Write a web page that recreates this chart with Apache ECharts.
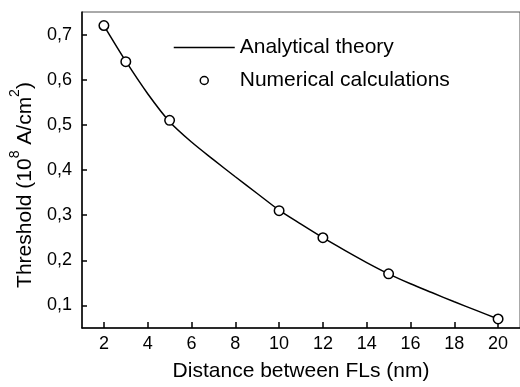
<!DOCTYPE html>
<html>
<head>
<meta charset="utf-8">
<script src="https://cdn.jsdelivr.net/npm/echarts@6/dist/echarts.min.js"></script>
<style>html,body{margin:0;padding:0;background:#fff;}#c{width:520px;height:387px;}</style>
</head>
<body>
<div id="c"></div>
<script>
const pointX = [2, 3, 5, 10, 12, 15, 20];
const pointY = [0.72, 0.64, 0.51, 0.31, 0.25, 0.17, 0.07];
const curveX = [2, 3, 4, 5, 6, 7, 8, 9, 10, 11, 12, 13, 14, 15, 16, 17, 18, 19, 20];
const curveY = [0.72, 0.641, 0.569, 0.507, 0.462, 0.423, 0.385, 0.348, 0.311, 0.28, 0.25, 0.222, 0.195, 0.17, 0.148, 0.128, 0.108, 0.089, 0.07];
const xTicks = [2, 4, 6, 8, 10, 12, 14, 16, 18, 20];
const yTicks = [0.1, 0.2, 0.3, 0.4, 0.5, 0.6, 0.7];
const seriesNames = ['Analytical theory', 'Numerical calculations'];

const FONT = 'Liberation Sans';
const chart = echarts.init(document.getElementById('c'), null, {renderer: 'canvas'});
chart.setOption({
  animation: false,
  backgroundColor: '#fff',
  textStyle: {fontFamily: FONT, color: '#000'},
  grid: {left: 82, top: 12, width: 439, height: 323, show: true, borderColor: '#555', borderWidth: 1},
  legend: {
    orient: 'vertical', left: 168, top: 32,
    itemWidth: 61, itemHeight: 8, itemGap: 12,
    textStyle: {fontFamily: FONT, fontSize: 21, color: '#000', lineHeight: 21},
    data: [
      {name: seriesNames[0], itemStyle: {color: 'rgba(0,0,0,0)', borderWidth: 0, opacity: 0}, lineStyle: {color: '#000', width: 1.5}},
      {name: seriesNames[1], icon: 'circle', itemStyle: {color: '#fff', borderColor: '#000', borderWidth: 1.5, opacity: 1}}
    ]
  },
  xAxis: {
    type: 'value', min: 1, max: 21,
    name: 'Distance between FLs (nm)', nameLocation: 'middle', nameGap: 33,
    nameTextStyle: {fontFamily: FONT, fontSize: 21, color: '#000'},
    axisLine: {onZero: false, lineStyle: {color: '#000', width: 1.5}},
    axisTick: {inside: true, length: 6, customValues: xTicks, lineStyle: {color: '#000', width: 1.5}},
    axisLabel: {customValues: xTicks, margin: 7, fontFamily: FONT, fontSize: 18, color: '#000'},
    splitLine: {show: false}
  },
  yAxis: {
    type: 'value', min: 0.05, max: 0.75,
    name: '{a|Threshold (10}{s|8}{a| A/cm}{s|2}{a|)}', nameLocation: 'middle', nameGap: 40, nameRotate: 90,
    nameTextStyle: {
      fontFamily: FONT, color: '#000', padding: [0, 30, 0, 0],
      rich: {
        a: {fontFamily: FONT, fontSize: 21, color: '#000', lineHeight: 28, verticalAlign: 'bottom'},
        s: {fontFamily: FONT, fontSize: 14, color: '#000', lineHeight: 28, verticalAlign: 'top'}
      }
    },
    axisLine: {onZero: false, lineStyle: {color: '#000', width: 1.5}},
    axisTick: {inside: true, length: 5, customValues: yTicks, lineStyle: {color: '#000', width: 1.5}},
    axisLabel: {customValues: yTicks, margin: 10, fontFamily: FONT, fontSize: 18, color: '#000',
      formatter: v => v.toFixed(1).replace('.', ',')},
    splitLine: {show: false}
  },
  series: [
    {
      name: seriesNames[0], type: 'line', smooth: 0.3, symbol: 'none',
      data: curveX.map((x, i) => [x, curveY[i]]),
      lineStyle: {color: '#000', width: 1.5}, itemStyle: {color: '#000'}
    },
    {
      name: seriesNames[1], type: 'scatter', symbol: 'circle', symbolSize: 9.5,
      data: pointX.map((x, i) => [x, pointY[i]]),
      itemStyle: {color: '#fff', borderColor: '#000', borderWidth: 1.5, opacity: 1}, z: 3
    }
  ]
});
</script>
</body>
</html>
